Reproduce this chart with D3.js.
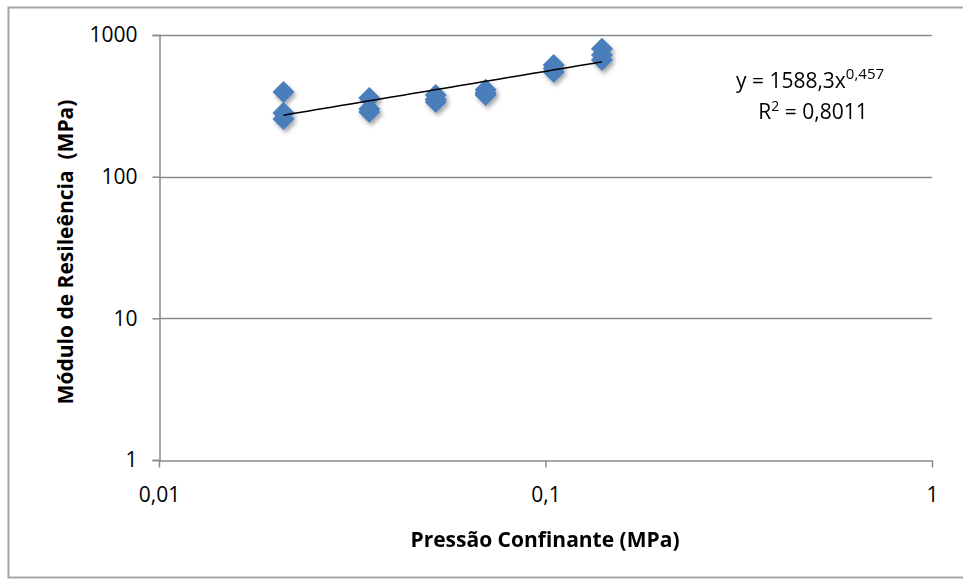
<!DOCTYPE html>
<html><head><meta charset="utf-8">
<script src="https://cdn.jsdelivr.net/npm/d3@7"></script>
<style>body{margin:0;background:#fff}svg{display:block}</style>
</head><body>
<script>
const pressures = [0.021,0.021,0.021,0.035,0.035,0.035,0.052,0.052,0.052,0.070,0.070,0.070,0.105,0.105,0.105,0.140,0.140,0.140];
const modulus   = [396,282,255, 359,300,286, 377,350,337, 410,390,377, 614,580,548, 800,723,667];
const xTicks = [0.01,0.1,1];
const xTickLabels = ["0,01","0,1","1"];
const yTicks = [1,10,100,1000];
const yTickLabels = ["1","10","100","1000"];
const fitA = 1588.3, fitB = 0.457;
const fitRange = [0.021,0.140];

const W=963,H=581;
const svg=d3.select("body").append("svg").attr("width",W).attr("height",H);
const font="'Open Sans', 'Liberation Sans', sans-serif";

svg.append("rect").attr("x",8.5).attr("y",7.5).attr("width",W).attr("height",570)
  .attr("fill","#fff").attr("stroke","#a6a6a6").attr("stroke-width",2);

const x=d3.scaleLog().domain([0.01,1]).range([159,932]);
const y=d3.scaleLog().domain([1,1000]).range([460,35]);

const defs=svg.append("defs");
const f=defs.append("filter").attr("id","sh").attr("x","-50%").attr("y","-50%").attr("width","200%").attr("height","200%");
f.append("feDropShadow").attr("dx",2).attr("dy",3).attr("stdDeviation",2).attr("flood-color","#000").attr("flood-opacity",0.35);

// gridlines
svg.append("g").selectAll("line").data(yTicks.slice(1)).join("line")
  .attr("x1",159).attr("x2",932).attr("y1",d=>Math.round(y(d))+0.5).attr("y2",d=>Math.round(y(d))+0.5)
  .attr("stroke","#8a8a8a").attr("stroke-width",1.3);

// y axis
const ya=svg.append("g").attr("transform","translate(159.5,0)")
  .call(d3.axisLeft(y).tickValues(yTicks).tickFormat((d,i)=>yTickLabels[i]).tickSize(7).tickPadding(15));
ya.select(".domain").attr("stroke","#8a8a8a").attr("stroke-width",1.5);
ya.selectAll(".tick line").attr("stroke","#8a8a8a").attr("stroke-width",1.5);
ya.selectAll("text").attr("font-family",font).attr("font-size",21).attr("fill","#000");

// x axis
const xa=svg.append("g").attr("transform","translate(0,460.5)")
  .call(d3.axisBottom(x).tickValues(xTicks).tickFormat((d,i)=>xTickLabels[i]).tickSize(7).tickSizeOuter(0).tickPadding(20));
xa.select(".domain").attr("stroke","#8a8a8a").attr("stroke-width",1.5);
xa.selectAll(".tick line").attr("stroke","#8a8a8a").attr("stroke-width",1.5);
xa.selectAll("text").attr("font-family",font).attr("font-size",21).attr("fill","#000");

// points
const pts=pressures.map((p,i)=>({p,m:modulus[i]}));
svg.append("g").attr("filter","url(#sh)").selectAll("path").data(pts).join("path")
  .attr("d",d3.symbol(d3.symbolDiamond2,310))
  .attr("transform",d=>`translate(${x(d.p)},${y(d.m)})`)
  .attr("fill","#4a7ebb");

// trendline
const tl=d3.range(0,41).map(i=>{const p=fitRange[0]*Math.pow(fitRange[1]/fitRange[0],i/40);return [p,fitA*Math.pow(p,fitB)];});
svg.append("path").datum(tl).attr("fill","none").attr("stroke","#000").attr("stroke-width",1.5)
  .attr("d",d3.line().x(d=>x(d[0])).y(d=>y(d[1])));

// equation
const eq=svg.append("text").attr("x",810).attr("y",88).attr("text-anchor","middle")
  .attr("font-family",font).attr("font-size",21).attr("fill","#000");
eq.append("tspan").text("y = 1588,3x");
eq.append("tspan").attr("dy",-9).attr("font-size",15).text("0,457");
const r2=svg.append("text").attr("x",813).attr("y",119).attr("text-anchor","middle")
  .attr("font-family",font).attr("font-size",21).attr("fill","#000");
r2.append("tspan").text("R");
r2.append("tspan").attr("dy",-8).attr("font-size",14).text("2");
r2.append("tspan").attr("dy",8).text(" = 0,8011");

// axis titles
svg.append("text").attr("x",545).attr("y",547).attr("text-anchor","middle")
  .attr("font-family",font).attr("font-size",21).attr("font-weight","bold").text("Pressão Confinante (MPa)");
svg.append("text").attr("transform","translate(73,252) rotate(-90)").attr("text-anchor","middle")
  .attr("font-family",font).attr("font-size",21).attr("font-weight","bold").attr("xml:space","preserve")
  .text("Módulo de Resileência  (MPa)");
</script>
</body></html>
